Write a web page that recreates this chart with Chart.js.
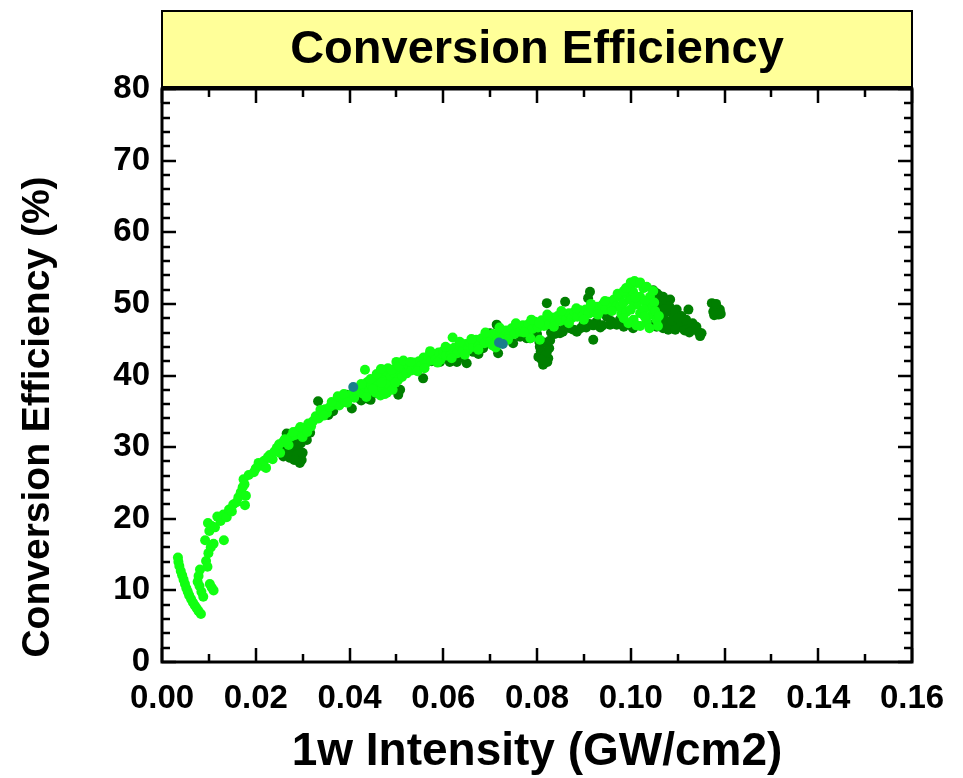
<!DOCTYPE html>
<html>
<head>
<meta charset="utf-8">
<title>Conversion Efficiency</title>
<script src="https://cdn.jsdelivr.net/npm/chart.js@4.4.1/dist/chart.umd.min.js"></script>
<style>
  html, body { margin: 0; padding: 0; background: #fff; }
  #wrap { width: 963px; height: 778px; }
</style>
</head>
<body>
<div id="wrap"><canvas id="chart" width="963" height="778"></canvas></div>
<script>
// Werte: [1w Intensity (GW/cm2), Efficiency (%)]
const titleText = "Conversion Efficiency";
const xTitle = "1w Intensity (GW/cm2)";
const yTitle = "Conversion Efficiency (%)";

const xMin = 0, xMax = 0.16, xStep = 0.02, xMinorStep = 0.01;
const yMin = 0, yMax = 80, yStep = 10, yMinorStep = 2;

const hellGruen = [
  [0.0034,14.6],[0.0035,14.0],[0.0037,13.4],[0.0040,12.7],[0.0043,12.1],[0.0046,11.5],[0.0049,10.9],[0.0052,10.3],
  [0.0055,9.8],[0.0058,9.3],[0.0062,8.8],[0.0066,8.3],[0.0070,7.9],[0.0074,7.5],[0.0078,7.1],[0.0083,6.7],
  [0.0081,12.9],[0.0078,12.0],[0.0076,11.2],[0.0080,10.6],[0.0084,9.8],[0.0088,9.1],[0.0102,10.9],[0.0106,10.4],[0.0110,10.0],
  [0.0094,14.1],[0.0097,13.3],[0.0099,15.2],[0.0104,16.0],[0.0110,16.5],[0.0092,17.0],[0.0101,18.3],[0.0098,19.4],
  [0.0106,19.0],[0.0113,18.8],[0.0118,20.3],[0.0125,19.7],[0.0132,17.0],[0.0131,20.6],[0.0138,20.2],[0.0143,21.3],
  [0.0149,21.0],[0.0152,22.0],[0.0159,22.3],[0.0163,23.0],[0.0168,23.7],[0.0172,24.4],[0.0177,21.9],[0.0176,24.8],
  [0.0174,25.5],[0.0179,23.2],[0.0185,26.1],[0.0196,26.5],[0.0206,27.8],[0.0212,27.4],[0.0222,27.1],[0.0218,28.1],
  [0.0230,28.9],[0.0236,28.3],[0.0245,29.9],[0.0252,29.2],[0.0258,30.7],[0.0262,31.1],[0.0270,30.3],[0.0276,31.5],
  [0.0284,31.7],[0.0290,32.3],[0.0298,31.9],[0.0305,32.7],[0.0312,33.3],[0.0318,32.9],[0.0322,33.6],[0.0328,34.3],
  [0.0334,34.0],[0.0341,34.9],[0.0348,35.3],[0.0352,34.8],[0.0358,35.6],[0.0366,35.9],[0.0372,36.4],[0.0378,35.8],
  [0.0385,36.7],[0.0391,36.3],[0.0398,37.1],[0.0404,37.4],[0.0410,36.9],[0.0416,37.7],[0.0422,38.2],[0.0428,37.5],
  [0.0434,38.4],[0.0438,39.1],[0.0442,37.8],[0.0447,38.7],[0.0452,39.4],[0.0456,37.6],[0.0460,38.9],[0.0463,40.0],
  [0.0466,37.2],[0.0470,38.3],[0.0473,39.5],[0.0477,40.6],[0.0480,37.6],[0.0484,38.8],[0.0488,39.9],[0.0492,38.0],
  [0.0496,40.3],[0.0500,41.9],[0.0503,39.3],[0.0508,40.6],
  [0.0512,39.8],[0.0516,41.0],[0.0522,40.3],[0.0526,41.4],[0.0532,40.7],[0.0537,41.8],[0.0542,41.1],[0.0548,42.0],
  [0.0553,41.4],[0.0558,42.5],[0.0563,41.7],[0.0568,42.7],[0.0574,42.1],[0.0579,43.0],[0.0584,42.3],[0.0590,43.2],
  [0.0594,42.2],[0.0600,43.4],[0.0606,42.8],[0.0612,43.7],[0.0616,42.9],[0.0620,45.3],[0.0624,43.9],[0.0630,43.1],
  [0.0636,44.1],[0.0642,43.4],[0.0648,44.4],[0.0653,43.6],[0.0658,44.6],[0.0664,44.0],[0.0670,45.0],[0.0676,44.2],
  [0.0682,45.2],[0.0688,44.5],[0.0694,45.5],[0.0700,44.7],[0.0706,45.8],[0.0712,43.9],[0.0716,45.1],[0.0722,46.1],
  [0.0728,45.3],[0.0734,46.3],[0.0740,45.5],[0.0746,46.6],[0.0752,45.8],[0.0758,46.9],[0.0764,46.1],[0.0770,47.0],
  [0.0776,46.3],[0.0782,47.2],[0.0786,45.2],[0.0790,46.5],[0.0796,47.5],[0.0802,46.7],[0.0806,45.0],[0.0810,47.7],
  [0.0815,46.9],[0.0820,47.9],[0.0826,47.2],[0.0832,48.1],[0.0838,47.4],[0.0844,48.3],[0.0850,47.6],[0.0856,48.5],
  [0.0862,47.8],[0.0868,48.7],[0.0874,48.0],[0.0880,48.9],[0.0886,48.2],[0.0892,49.1],[0.0898,48.4],[0.0904,49.2],
  [0.0910,48.6],[0.0916,49.4],[0.0922,48.8],[0.0928,49.6],[0.0934,49.0],[0.0940,49.9],[0.0946,49.2],[0.0952,50.3],
  [0.0958,49.5],[0.0964,50.6],[0.0970,49.7],[0.0976,51.0],[0.0980,48.6],
  [0.0977,49.6],[0.0984,50.1],[0.0991,51.3],[0.0998,52.4],[0.1013,52.9],[0.1027,52.2],[0.1020,51.0],[0.1041,51.0],
  [0.1013,49.9],[0.1041,49.6],[0.0991,48.9],[0.1020,48.7],[0.1045,48.5],[0.1006,47.8],[0.1034,47.5],[0.1055,47.8],
  [0.1005,51.7],[0.1030,50.4],[0.1050,50.2],[0.0995,47.3],[0.1020,46.9],
  // Verdichtung des Bandes
  [0.0200,27.0],[0.0226,28.6],[0.0240,29.4],[0.0250,30.4],[0.0266,30.9],[0.0280,32.1],[0.0295,32.8],[0.0300,31.4],[0.0310,32.1],
  [0.0338,35.2],[0.0345,34.4],[0.0362,36.3],[0.0375,37.1],[0.0388,37.4],[0.0395,36.2],[0.0412,38.0],[0.0425,38.8],
  [0.0436,37.0],[0.0445,39.5],[0.0450,38.1],[0.0458,40.2],[0.0468,39.0],[0.0475,37.4],[0.0482,41.0],[0.0490,40.8],
  [0.0498,39.0],[0.0505,41.3],[0.0467,40.9],[0.0433,40.8],
  [0.0515,42.1],[0.0530,41.9],[0.0545,40.6],[0.0560,41.0],[0.0572,43.4],[0.0588,41.8],[0.0605,44.0],[0.0618,42.4],
  [0.0635,44.7],[0.0646,42.9],[0.0660,45.1],[0.0675,43.6],[0.0690,46.0],[0.0705,44.2],
  [0.0720,46.7],[0.0738,45.0],[0.0755,47.3],[0.0772,46.0],[0.0788,47.8],[0.0805,47.3],[0.0822,48.5],[0.0836,46.8],
  [0.0852,49.0],[0.0868,47.3],[0.0884,49.4],[0.0900,47.8],[0.0915,50.0],[0.0930,48.5],[0.0945,50.4],[0.0960,49.0],
  [0.0972,51.4],[0.0985,51.8],
  [0.0990,52.2],[0.1000,53.0],[0.1008,53.2],[0.1020,53.0],[0.1034,52.4],[0.1048,51.8],[0.1000,50.5],[0.1010,50.9],
  [0.1028,49.2],[0.1052,49.0],[0.1060,48.3],[0.0985,48.0],[0.1012,47.0],[0.1040,46.6],[0.1058,46.9],[0.1000,49.2],[0.1030,48.2]
];

const dunkelGruen = [
  [0.0252,30.3],[0.0259,28.7],[0.0266,31.9],[0.0273,30.8],[0.0273,28.5],[0.0284,30.1],[0.0291,29.4],[0.0298,28.2],
  [0.0294,27.8],[0.0309,31.0],[0.0316,32.0],[0.0279,29.3],[0.0287,28.9],
  [0.0262,30.0],[0.0268,29.0],[0.0282,28.2],[0.0300,29.2],[0.0296,30.5],[0.0288,31.2],
  [0.0333,36.4],[0.0355,34.5],[0.0365,35.0],[0.0405,35.4],[0.0394,37.3],[0.0430,37.8],[0.0437,36.8],[0.0451,37.5],
  [0.0472,40.8],[0.0461,39.8],[0.0418,36.9],[0.0445,36.6],[0.0375,36.0],[0.0425,36.5],[0.0458,38.5],[0.0440,38.0],
  [0.0508,38.0],[0.0504,37.3],[0.0536,41.7],[0.0557,39.6],[0.0593,41.9],[0.0614,41.9],[0.0629,41.9],[0.0650,41.7],
  [0.0664,43.3],[0.0685,43.8],[0.0714,47.1],[0.0717,43.1],[0.0749,44.5],[0.0778,45.2],[0.0700,45.9],[0.0764,45.4],[0.0785,45.2],
  [0.0575,42.0],[0.0600,42.8],[0.0640,42.5],[0.0675,43.0],
  [0.0821,50.1],[0.0860,50.3],[0.0913,51.7],[0.0909,50.8],[0.0920,45.0],[0.0956,47.1],[0.1005,46.6],
  [0.0806,44.0],[0.0821,43.3],[0.0803,42.6],[0.0824,42.4],[0.0813,41.5],[0.0815,44.6],
  [0.0808,43.4],[0.0818,42.9],[0.0826,43.8],[0.0810,42.2],[0.0822,41.9],[0.0805,44.7],[0.0828,44.9],
  [0.0842,46.4],[0.0870,46.6],[0.0899,47.1],[0.0927,47.5],[0.0949,48.2],[0.0977,47.8],[0.0849,45.9],[0.0885,46.1],
  [0.0934,49.4],[0.0963,49.6],[0.0800,45.8],[0.0830,46.0],[0.0860,46.9],[0.0912,47.2],[0.0940,47.0],[0.0990,47.3],
  [0.0855,46.1],[0.0878,46.4],[0.0905,46.7],[0.0920,47.0],[0.0935,46.7],[0.0958,47.6],[0.0970,47.1],[0.0985,46.8],
  [0.1000,47.0],[0.0893,46.6],[0.0838,45.8],
  [0.1048,51.9],[0.1055,51.5],[0.1069,51.0],[0.1066,50.1],[0.1077,49.6],[0.1084,48.9],[0.1094,48.2],[0.1105,47.5],
  [0.1119,47.1],[0.1130,46.6],[0.1144,46.1],[0.1151,45.9],[0.1062,48.2],[0.1077,47.5],[0.1091,47.1],[0.1055,46.8],
  [0.1069,46.6],[0.1105,46.8],[0.1084,50.6],[0.1098,49.2],[0.1123,49.2],[0.1045,47.1],[0.1060,49.0],[0.1090,48.0],[0.1070,48.5],
  [0.1050,50.5],[0.1060,51.2],[0.1072,50.4],[0.1082,49.7],[0.1095,49.0],[0.1108,48.3],[0.1118,47.8],[0.1132,47.3],
  [0.1140,46.8],[0.1066,47.4],[0.1080,46.4],[0.1095,46.4],[0.1115,46.3],[0.1125,46.0],[0.1148,45.5],[0.1088,47.6],
  [0.1100,48.0],[0.1058,49.8],[0.1072,49.2],
  [0.1173,50.1],[0.1180,49.4],[0.1176,48.9],[0.1187,48.5],[0.1190,49.2],[0.1182,50.0],[0.1178,48.4],[0.1192,48.6]
];

const petrol = [[0.0408,38.4],[0.0727,44.4],[0.0719,44.6]];

const toPts = arr => arr.map(p => ({ x: p[0], y: p[1] }));

const schrift = "'Liberation Sans', Arial, sans-serif";

// Rahmen, Ticks nach innen (auch oben/rechts), gelbe Titelbox und y-Achsentitel
const rahmenPlugin = {
  id: "rahmen",
  beforeDraw(chart) {
    const ctx = chart.ctx;
    const a = chart.chartArea;
    ctx.save();
    ctx.fillStyle = "#FFFF99";
    ctx.fillRect(a.left, 11, a.right - a.left, 76);
    ctx.lineWidth = 2;
    ctx.strokeStyle = "#000";
    ctx.strokeRect(a.left, 11, a.right - a.left, 76);
    ctx.fillStyle = "#000";
    ctx.font = "bold 47px " + schrift;
    ctx.textAlign = "center";
    ctx.textBaseline = "middle";
    ctx.fillText(titleText, (a.left + a.right) / 2, 50);

    // y-Titel etwas unterhalb der Achsenmitte wie im Original
    ctx.translate(38, 417);
    ctx.rotate(-Math.PI / 2);
    ctx.font = "bold 39px " + schrift;
    ctx.fillText(yTitle, 0, 0);
    ctx.restore();
  },
  afterDraw(chart) {
    const ctx = chart.ctx;
    const a = chart.chartArea;
    const xs = chart.scales.x, ys = chart.scales.y;
    ctx.save();
    ctx.strokeStyle = "#000";
    ctx.lineWidth = 2.5;
    for (let i = 0; i * xMinorStep <= xMax + 1e-9; i++) {
      const px = Math.round(xs.getPixelForValue(i * xMinorStep));
      const len = (i % 2 === 0) ? 14 : 8;
      ctx.beginPath();
      ctx.moveTo(px, a.bottom); ctx.lineTo(px, a.bottom - len);
      ctx.moveTo(px, a.top); ctx.lineTo(px, a.top + len);
      ctx.stroke();
    }
    for (let i = 0; i * yMinorStep <= yMax + 1e-9; i++) {
      const py = Math.round(ys.getPixelForValue(i * yMinorStep));
      const len = (i % 5 === 0) ? 14 : 8;
      ctx.beginPath();
      ctx.moveTo(a.left, py); ctx.lineTo(a.left + len, py);
      ctx.moveTo(a.right, py); ctx.lineTo(a.right - len, py);
      ctx.stroke();
    }
    ctx.lineWidth = 3;
    ctx.strokeRect(a.left, a.top, a.right - a.left, a.bottom - a.top);
    ctx.restore();
  }
};

const tickFont = { family: schrift, size: 33, weight: "bold" };

new Chart(document.getElementById("chart"), {
  type: "scatter",
  data: {
    datasets: [
      { label: "c", data: toPts(petrol), backgroundColor: "#1A7F8C", pointRadius: 5, borderWidth: 0, order: 1 },
      { label: "a", data: toPts(hellGruen), backgroundColor: "#11FF11", pointRadius: 5, borderWidth: 0, order: 2 },
      { label: "b", data: toPts(dunkelGruen), backgroundColor: "#007F00", pointRadius: 5, borderWidth: 0, order: 3 }
    ]
  },
  options: {
    responsive: false,
    animation: false,
    events: [],
    layout: { padding: { top: 89, right: 51, left: 0, bottom: 0 } },
    plugins: { legend: { display: false }, tooltip: { enabled: false }, title: { display: false } },
    scales: {
      x: {
        type: "linear",
        min: xMin, max: xMax,
        border: { display: false },
        grid: { display: false, drawTicks: false },
        ticks: {
          stepSize: xStep, autoSkip: false, maxRotation: 0, padding: 17,
          color: "#000", font: tickFont,
          callback: v => v.toFixed(2)
        },
        title: {
          display: true, text: xTitle, color: "#000",
          font: { family: schrift, size: 46, weight: "bold", lineHeight: 1 },
          padding: { top: 0, bottom: 3 }
        },
        afterFit: s => { s.height = 116; }
      },
      y: {
        type: "linear",
        min: yMin, max: yMax,
        border: { display: false },
        grid: { display: false, drawTicks: false },
        ticks: {
          stepSize: yStep, autoSkip: false, padding: 12,
          color: "#000", font: tickFont
        },
        afterFit: s => { s.width = 162; }
      }
    }
  },
  plugins: [rahmenPlugin]
});
</script>
</body>
</html>
